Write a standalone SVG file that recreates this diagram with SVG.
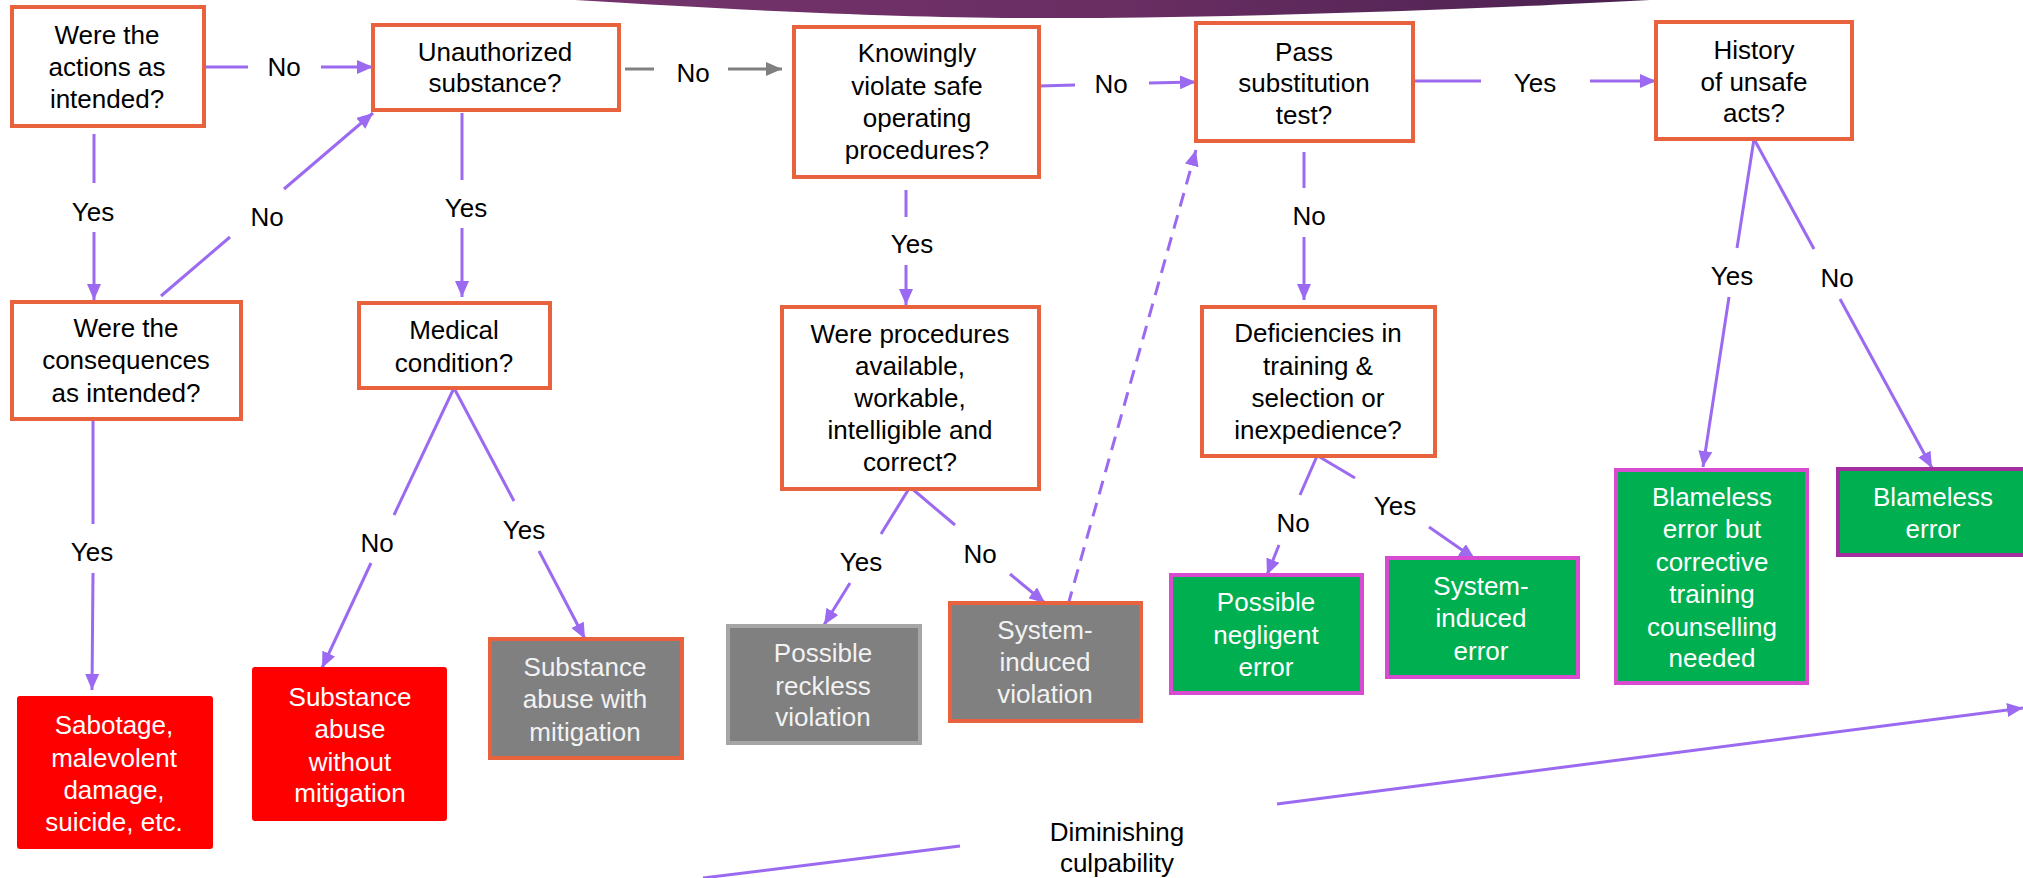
<svg xmlns="http://www.w3.org/2000/svg" width="2023" height="878" viewBox="0 0 2023 878">
<defs>
<linearGradient id="banner" x1="0" y1="0" x2="1" y2="0">
<stop offset="0" stop-color="#74336C"/>
<stop offset="0.5" stop-color="#6A2E63"/>
<stop offset="1" stop-color="#4A2150"/>
</linearGradient>
<marker id="ah" viewBox="0 0 16 14" markerWidth="16" markerHeight="14" refX="16" refY="7" orient="auto" markerUnits="userSpaceOnUse">
<path d="M0,0 L16,7 L0,14 z" fill="#9B6AF0"/>
</marker>
<marker id="ahg" viewBox="0 0 16 14" markerWidth="16" markerHeight="14" refX="16" refY="7" orient="auto" markerUnits="userSpaceOnUse">
<path d="M0,0 L16,7 L0,14 z" fill="#808080"/>
</marker>
</defs>
<style>
text{font-family:"Liberation Sans",Arial,sans-serif;font-size:26px;text-anchor:middle;fill:#000}
.q{fill:#fff;stroke:#E8623E;stroke-width:4}
.red{fill:#FF0000;stroke:#FF0000;stroke-width:2}
.gro{fill:#808080;stroke:#E8623E;stroke-width:4}
.grg{fill:#808080;stroke:#A6A6A6;stroke-width:4}
.grn{fill:#00B050;stroke:#D84ACF;stroke-width:4}
.grn2{fill:#00B050;stroke:#A22EA0;stroke-width:4}
.w{fill:#fff}
.lg{fill:#F2F2F2}
.c{stroke:#9B6AF0;stroke-width:3;fill:none}
.g{stroke:#808080;stroke-width:3;fill:none}
.a{marker-end:url(#ah)}
</style>
<rect width="2023" height="878" fill="#fff"/>
<path d="M575,0 C800,14 950,19 1100,18 C1300,16 1500,8 1650,0 Z" fill="url(#banner)"/>

<g id="connectors">
<line class="c" x1="204" y1="67" x2="248" y2="67"/>
<line class="c a" x1="321" y1="67" x2="373" y2="67"/>
<line class="c" x1="94" y1="134" x2="94" y2="183"/>
<line class="c a" x1="94" y1="232" x2="94" y2="300"/>
<line class="c" x1="161" y1="296" x2="230" y2="237"/>
<line class="c a" x1="284" y1="189" x2="373" y2="113"/>
<line class="c" x1="462" y1="113" x2="462" y2="180"/>
<line class="c a" x1="462" y1="228" x2="462" y2="297"/>
<line class="g" x1="625" y1="69" x2="654" y2="69"/>
<line class="g" x1="728" y1="69" x2="782" y2="69" marker-end="url(#ahg)"/>
<line class="c" x1="454" y1="388" x2="394" y2="515"/>
<line class="c a" x1="371" y1="563" x2="322" y2="668"/>
<line class="c" x1="454" y1="388" x2="514" y2="501"/>
<line class="c a" x1="539" y1="551" x2="585" y2="639"/>
<line class="c" x1="93" y1="421" x2="93" y2="524"/>
<line class="c a" x1="93" y1="573" x2="92" y2="690"/>
<line class="c" x1="1039" y1="86" x2="1075" y2="85"/>
<line class="c a" x1="1149" y1="83" x2="1196" y2="82"/>
<line class="c" x1="906" y1="190" x2="906" y2="217"/>
<line class="c a" x1="906" y1="265" x2="906" y2="305"/>
<line class="c" x1="1413" y1="81" x2="1481" y2="81"/>
<line class="c a" x1="1590" y1="81" x2="1656" y2="81"/>
<line class="c" x1="1304" y1="152" x2="1304" y2="188"/>
<line class="c a" x1="1304" y1="237" x2="1304" y2="300"/>
<line class="c" x1="910" y1="487" x2="881" y2="534"/>
<line class="c a" x1="850" y1="583" x2="824" y2="625"/>
<line class="c" x1="910" y1="487" x2="955" y2="525"/>
<line class="c a" x1="1010" y1="574" x2="1045" y2="603"/>
<line class="c a" x1="1068" y1="605" x2="1196" y2="150" stroke-dasharray="14,9"/>
<line class="c" x1="1317" y1="456" x2="1300" y2="495"/>
<line class="c a" x1="1279" y1="545" x2="1267" y2="575"/>
<line class="c" x1="1318" y1="456" x2="1355" y2="478"/>
<line class="c a" x1="1429" y1="527" x2="1475" y2="559"/>
<line class="c" x1="1754" y1="139" x2="1737" y2="248"/>
<line class="c a" x1="1729" y1="297" x2="1703" y2="467"/>
<line class="c" x1="1754" y1="139" x2="1814" y2="249"/>
<line class="c a" x1="1840" y1="299" x2="1932" y2="468"/>
<line class="c" x1="703" y1="878" x2="960" y2="846"/>
<line class="c a" x1="1277" y1="804" x2="2023" y2="708"/>
<text x="284" y="76">No</text>
<text x="93" y="221">Yes</text>
<text x="267" y="226">No</text>
<text x="466" y="217">Yes</text>
<text x="693" y="82">No</text>
<text x="377" y="552">No</text>
<text x="524" y="539">Yes</text>
<text x="92" y="561">Yes</text>
<text x="1111" y="93">No</text>
<text x="912" y="253">Yes</text>
<text x="1535" y="92">Yes</text>
<text x="1309" y="225">No</text>
<text x="861" y="571">Yes</text>
<text x="980" y="563">No</text>
<text x="1293" y="532">No</text>
<text x="1395" y="515">Yes</text>
<text x="1732" y="285">Yes</text>
<text x="1837" y="287">No</text>
<text x="1117" y="841">Diminishing</text>
<text x="1117" y="872">culpability</text>
</g>

<g id="n1"><rect class="q" x="12" y="7" width="192" height="119"/>
<text><tspan x="107" y="44">Were the</tspan><tspan x="107" y="76">actions as</tspan><tspan x="107" y="108">intended?</tspan></text></g>
<g id="n2"><rect class="q" x="373" y="25" width="246" height="85"/>
<text><tspan x="495" y="61">Unauthorized</tspan><tspan x="495" y="92">substance?</tspan></text></g>
<g id="n3"><rect class="q" x="12" y="302" width="229" height="117"/>
<text><tspan x="126" y="337">Were the</tspan><tspan x="126" y="369">consequences</tspan><tspan x="126" y="402">as intended?</tspan></text></g>
<g id="n4"><rect class="q" x="359" y="303" width="191" height="85"/>
<text><tspan x="454" y="339">Medical</tspan><tspan x="454" y="372">condition?</tspan></text></g>
<g id="n5"><rect class="q" x="794" y="27" width="245" height="150"/>
<text><tspan x="917" y="62">Knowingly</tspan><tspan x="917" y="95">violate safe</tspan><tspan x="917" y="127">operating</tspan><tspan x="917" y="159">procedures?</tspan></text></g>
<g id="n6"><rect class="q" x="782" y="307" width="257" height="182"/>
<text><tspan x="910" y="343">Were procedures</tspan><tspan x="910" y="375">available,</tspan><tspan x="910" y="407">workable,</tspan><tspan x="910" y="439">intelligible and</tspan><tspan x="910" y="471">correct?</tspan></text></g>
<g id="n7"><rect class="q" x="1196" y="23" width="217" height="118"/>
<text><tspan x="1304" y="61">Pass</tspan><tspan x="1304" y="92">substitution</tspan><tspan x="1304" y="124">test?</tspan></text></g>
<g id="n8"><rect class="q" x="1202" y="307" width="233" height="149"/>
<text><tspan x="1318" y="342">Deficiencies in</tspan><tspan x="1318" y="375">training &amp;</tspan><tspan x="1318" y="407">selection or</tspan><tspan x="1318" y="439">inexpedience?</tspan></text></g>
<g id="n9"><rect class="q" x="1656" y="22" width="196" height="117"/>
<text><tspan x="1754" y="59">History</tspan><tspan x="1754" y="91">of unsafe</tspan><tspan x="1754" y="122">acts?</tspan></text></g>

<g id="l1"><rect class="red" x="18" y="697" width="194" height="151" rx="2"/>
<text class="w"><tspan x="114" y="734">Sabotage,</tspan><tspan x="114" y="767">malevolent</tspan><tspan x="114" y="799">damage,</tspan><tspan x="114" y="831">suicide, etc.</tspan></text></g>
<g id="l2"><rect class="red" x="253" y="668" width="193" height="152" rx="2"/>
<text class="w"><tspan x="350" y="706">Substance</tspan><tspan x="350" y="738">abuse</tspan><tspan x="350" y="771">without</tspan><tspan x="350" y="802">mitigation</tspan></text></g>
<g id="l3"><rect class="gro" x="490" y="639" width="192" height="119"/>
<text class="lg"><tspan x="585" y="676">Substance</tspan><tspan x="585" y="708">abuse with</tspan><tspan x="585" y="741">mitigation</tspan></text></g>
<g id="l4"><rect class="grg" x="728" y="626" width="192" height="117"/>
<text class="lg"><tspan x="823" y="662">Possible</tspan><tspan x="823" y="695">reckless</tspan><tspan x="823" y="726">violation</tspan></text></g>
<g id="l5"><rect class="gro" x="950" y="603" width="191" height="118"/>
<text class="lg"><tspan x="1045" y="639">System-</tspan><tspan x="1045" y="671">induced</tspan><tspan x="1045" y="703">violation</tspan></text></g>
<g id="l6"><rect class="grn" x="1171" y="575" width="191" height="118"/>
<text class="w"><tspan x="1266" y="611">Possible</tspan><tspan x="1266" y="644">negligent</tspan><tspan x="1266" y="676">error</tspan></text></g>
<g id="l7"><rect class="grn" x="1387" y="558" width="191" height="119"/>
<text class="w"><tspan x="1481" y="595">System-</tspan><tspan x="1481" y="627">induced</tspan><tspan x="1481" y="660">error</tspan></text></g>
<g id="l8"><rect class="grn" x="1616" y="470" width="191" height="213"/>
<text class="w"><tspan x="1712" y="506">Blameless</tspan><tspan x="1712" y="538">error but</tspan><tspan x="1712" y="571">corrective</tspan><tspan x="1712" y="603">training</tspan><tspan x="1712" y="636">counselling</tspan><tspan x="1712" y="667">needed</tspan></text></g>
<g id="l9"><rect class="grn2" x="1838" y="469" width="200" height="86"/>
<text class="w"><tspan x="1933" y="506">Blameless</tspan><tspan x="1933" y="538">error</tspan></text></g>
</svg>
